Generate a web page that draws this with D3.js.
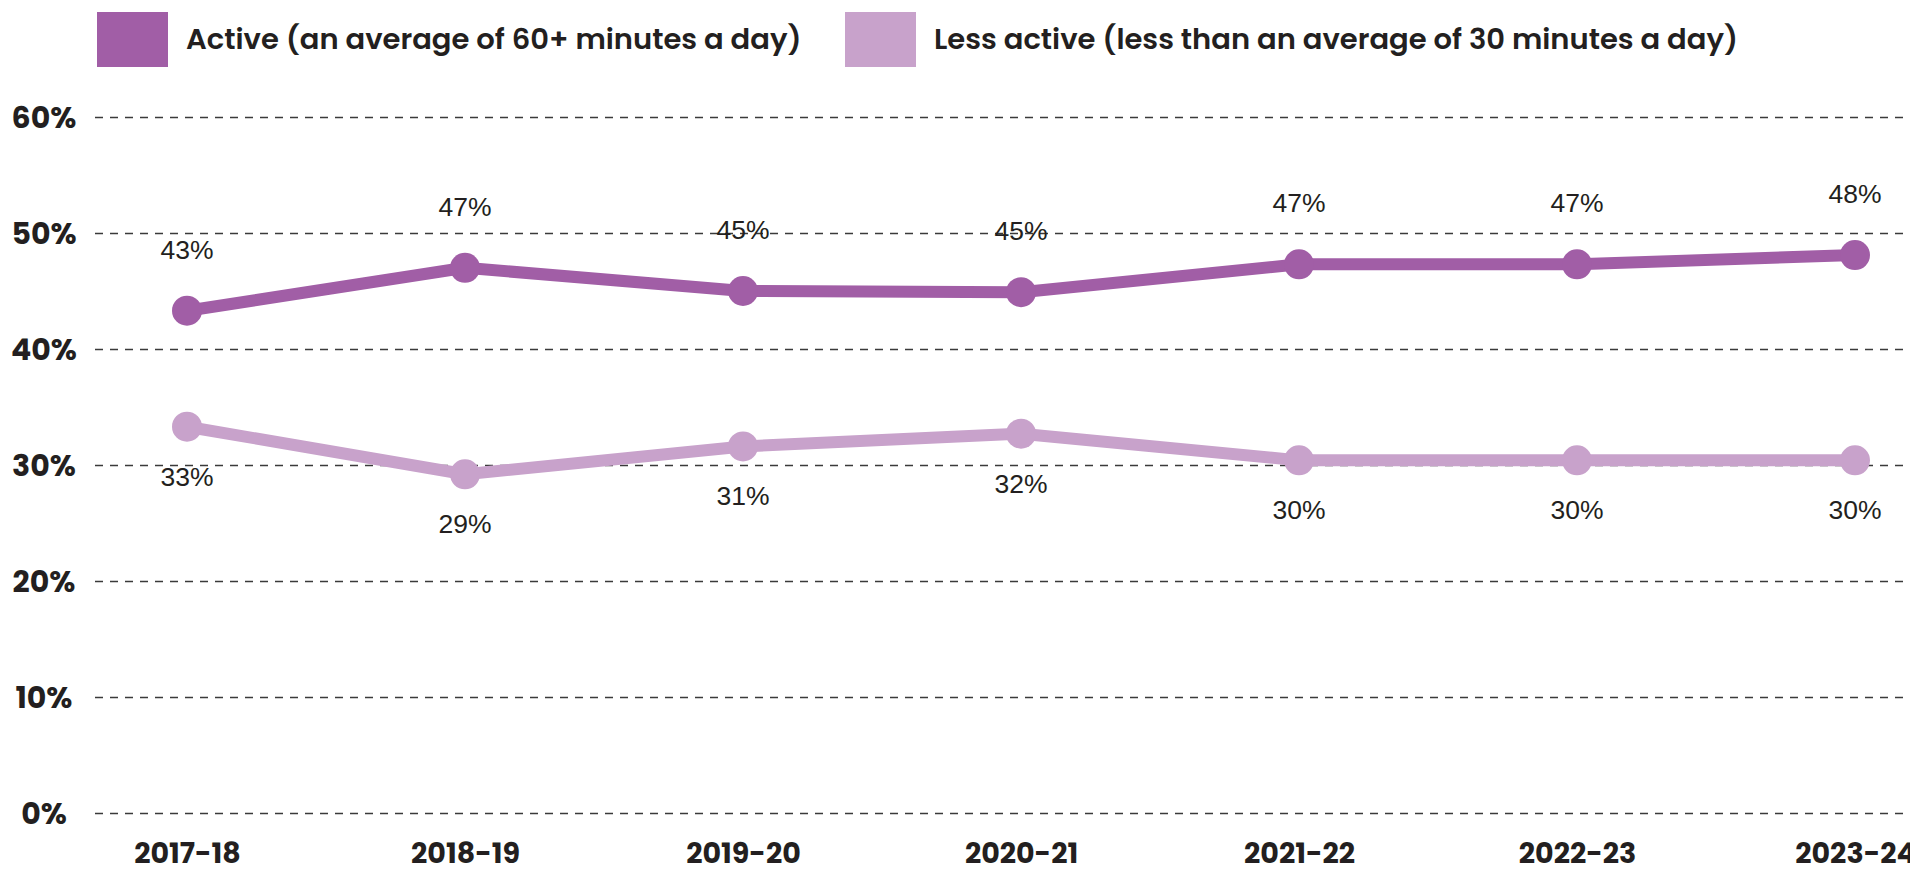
<!DOCTYPE html>
<html>
<head>
<meta charset="utf-8">
<script src="https://cdn.jsdelivr.net/npm/d3@7"></script>
<style>
  html, body { margin: 0; padding: 0; background: #fff; }
  svg { display: block; }
</style>
</head>
<body>
<svg id="chart" width="1910" height="874"></svg>
<script>
const years = ["2017-18", "2018-19", "2019-20", "2020-21", "2021-22", "2022-23", "2023-24"];
const activeValues = [43.3, 47.0, 45.0, 44.9, 47.3, 47.3, 48.1];
const activeLabels = ["43%", "47%", "45%", "45%", "47%", "47%", "48%"];
const lessActiveValues = [33.3, 29.2, 31.6, 32.7, 30.4, 30.4, 30.4];
const lessActiveLabels = ["33%", "29%", "31%", "32%", "30%", "30%", "30%"];
const yTicks = [0, 10, 20, 30, 40, 50, 60];
const seriesNames = ["Active (an average of 60+ minutes a day)", "Less active (less than an average of 30 minutes a day)"];

const W = 1910, H = 874;
const boldFont = "Poppins, Inter, 'Noto Sans', sans-serif";
const labelFont = "'Liberation Sans', Arial, Helvetica, sans-serif";
const colors = ["#a15ea6", "#c8a2cb"];

const svg = d3.select("#chart");

const x = d3.scalePoint().domain(years).range([187, 1855]);
const y = d3.scaleLinear().domain([0, 60]).range([813, 117]);

// gridlines
const grid = svg.append("g")
  .attr("transform", "translate(95,0)")
  .call(d3.axisLeft(y).tickValues(yTicks).tickSize(-(W - 95)).tickFormat(""));
grid.select(".domain").remove();
grid.selectAll(".tick line")
  .attr("stroke", "#3a3a3a")
  .attr("stroke-width", 1.6)
  .attr("stroke-dasharray", "8,7");

// y tick labels
svg.append("g").selectAll("text")
  .data(yTicks).join("text")
  .attr("x", 44)
  .attr("y", d => y(d))
  .attr("text-anchor", "middle")
  .attr("dominant-baseline", "central")
  .attr("font-family", boldFont)
  .attr("font-weight", 700)
  .attr("font-size", 30)
  .attr("fill", "#231f20")
  .text(d => d + "%");

// x axis labels
const xAxis = svg.append("g")
  .call(d3.axisBottom(x).tickSize(0));
xAxis.select(".domain").remove();
xAxis.selectAll(".tick text")
  .attr("y", 863)
  .attr("dy", null)
  .attr("font-family", boldFont)
  .attr("font-weight", 700)
  .attr("font-size", 28.5)
  .attr("fill", "#231f20");

const series = [
  { name: seriesNames[0], values: activeValues, labels: activeLabels, color: colors[0], labelOffset: -61 },
  { name: seriesNames[1], values: lessActiveValues, labels: lessActiveLabels, color: colors[1], labelOffset: 50 }
];

const line = d3.line().x((d, i) => x(years[i])).y(d => y(d));

series.forEach(s => {
  svg.append("path")
    .datum(s.values)
    .attr("fill", "none")
    .attr("stroke", s.color)
    .attr("stroke-width", 12)
    .attr("stroke-linejoin", "round")
    .attr("d", line);
  svg.append("g").selectAll("circle")
    .data(s.values).join("circle")
    .attr("cx", (d, i) => x(years[i]))
    .attr("cy", d => y(d))
    .attr("r", 15)
    .attr("fill", s.color);
});

series.forEach(s => {
  svg.append("g").selectAll("text")
    .data(s.values).join("text")
    .attr("x", (d, i) => x(years[i]))
    .attr("y", d => y(d) + s.labelOffset)
    .attr("text-anchor", "middle")
    .attr("dominant-baseline", "central")
    .attr("font-family", labelFont)
    .attr("font-size", 26.5)
    .attr("fill", "#231f20")
    .text((d, i) => s.labels[i]);
});

// legend
const legendX = [97, 845];
series.forEach((s, i) => {
  const g = svg.append("g").attr("transform", `translate(${legendX[i]},12)`);
  g.append("rect").attr("width", 71).attr("height", 55).attr("fill", s.color);
  g.append("text")
    .attr("x", 89)
    .attr("y", 27)
    .attr("dominant-baseline", "central")
    .attr("font-family", boldFont)
    .attr("font-weight", 600)
    .attr("font-size", 29)
    .attr("fill", "#231f20")
    .text(s.name);
});
</script>
</body>
</html>
